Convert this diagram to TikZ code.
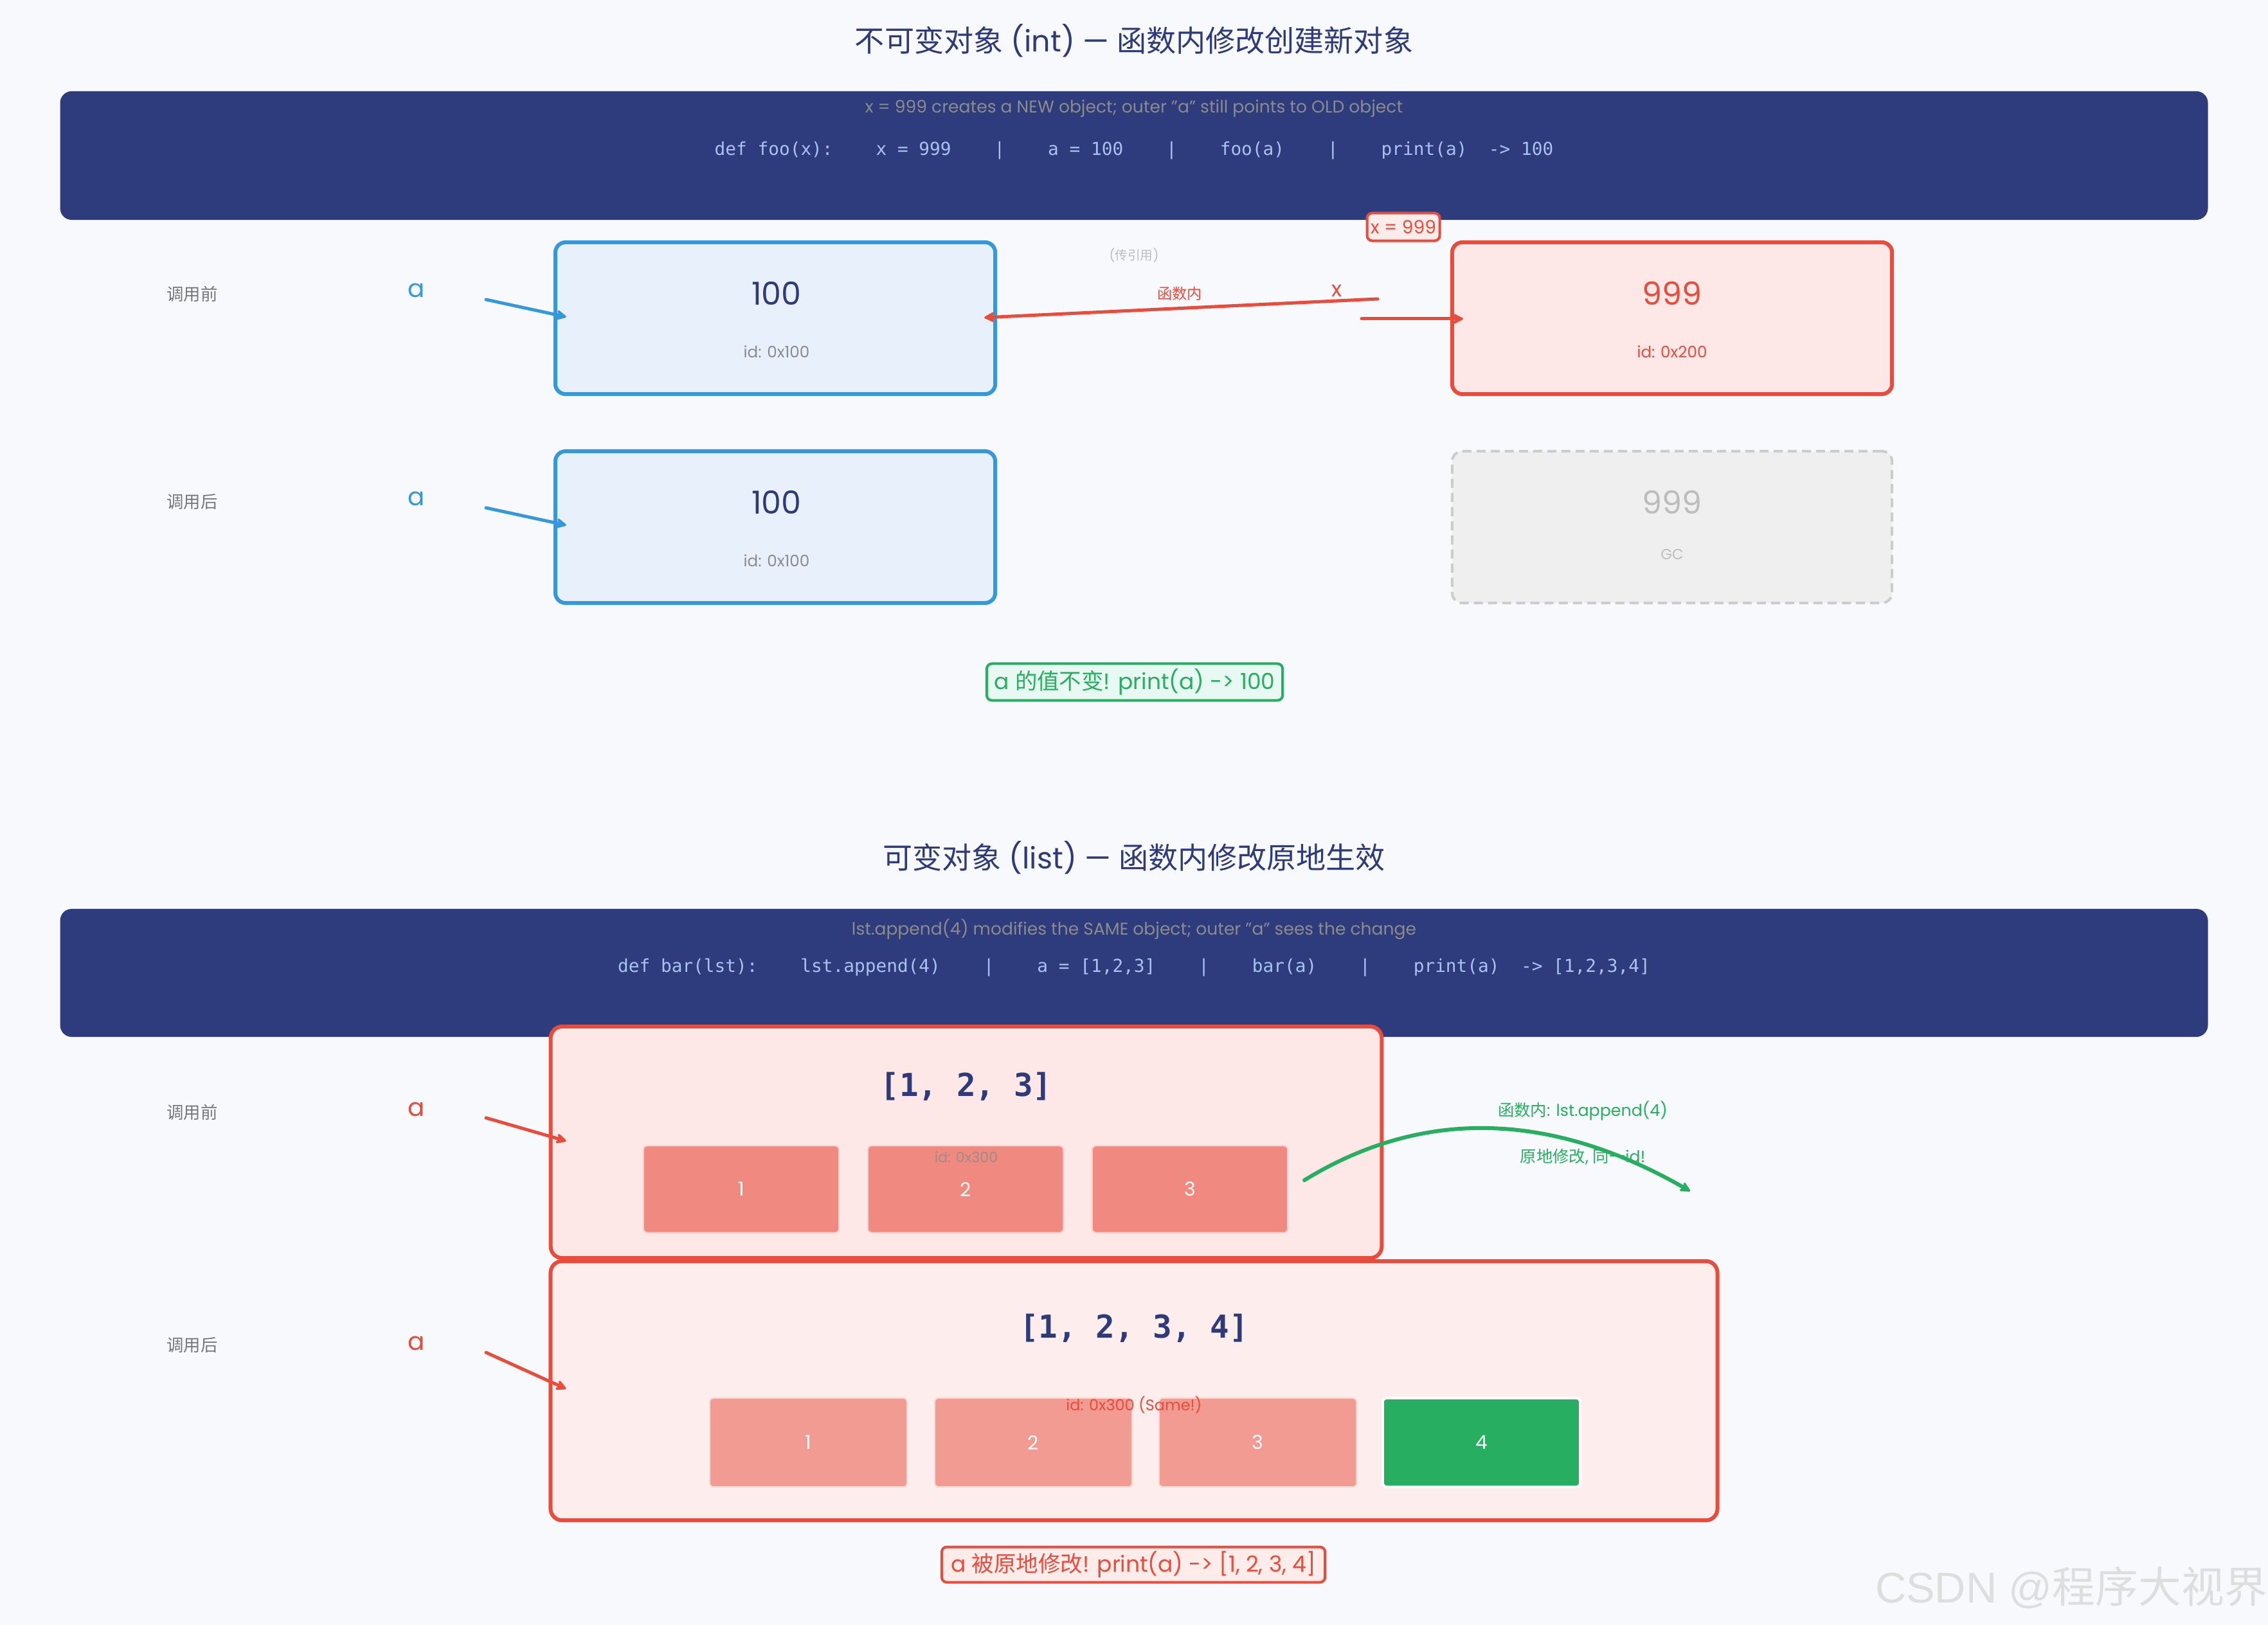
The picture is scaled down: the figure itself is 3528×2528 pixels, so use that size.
\documentclass[tikz,border=0pt]{standalone}
\usepackage{fontspec}
\setmainfont{Poppins}
\newfontfamily\cjk{Noto Sans CJK SC}
\newfontfamily\monof{DejaVu Sans Mono}
\newfontfamily\wmfont{Liberation Sans}
\usetikzlibrary{arrows.meta}
\definecolor{bgc}{HTML}{F7F9FC}
\definecolor{navy}{HTML}{2E3B7C}
\definecolor{navyt}{HTML}{2E3A7A}
\definecolor{codec}{HTML}{A9C2F2}
\definecolor{cmtc}{HTML}{8C8C8C}
\definecolor{blueC}{HTML}{3498DB}
\definecolor{blueF}{HTML}{E8F0FC}
\definecolor{redC}{HTML}{E74C3C}
\definecolor{redF}{HTML}{FDE8E7}
\definecolor{redF2}{HTML}{FEEDED}
\definecolor{tagF}{HTML}{FDECEA}
\definecolor{ghostF}{HTML}{EFEFEF}
\definecolor{ghostB}{HTML}{CCCCCC}
\definecolor{ghostT}{HTML}{BDBDBD}
\definecolor{greenC}{HTML}{27AE60}
\definecolor{greenF}{HTML}{E8F8F2}
\definecolor{cellA}{HTML}{F08A80}
\definecolor{cellB}{HTML}{F19B92}
\definecolor{labc}{HTML}{777777}
\definecolor{idc}{HTML}{8C8C8C}
\newcommand\fsz[1]{\fontsize{#1}{#1}\selectfont}
\tikzset{
  txt/.style={inner sep=0pt, anchor=center},
  banner/.style={fill=navy, rounded corners=0.18cm, minimum width=33.39cm, inner sep=0pt},
  valbox/.style={draw, rounded corners=0.16cm, line width=0.06cm, minimum width=6.84cm, minimum height=2.36cm, inner sep=0pt},
  bluebox/.style={valbox, draw=blueC, fill=blueF},
  redbox/.style={valbox, draw=redC, fill=redF},
  ghostbox/.style={valbox, draw=ghostB, fill=ghostF, line width=0.04cm, dash pattern=on 0.14cm off 0.08cm},
  listbox/.style={draw=redC, line width=0.06cm, rounded corners=0.18cm, inner sep=0pt},
  cellbox/.style={rounded corners=0.06cm, inner sep=0pt, text=white, font=\fsz{8.5pt}},
  arr/.style={line width=0.05cm, line cap=round, -{Stealth[length=0.2cm, width=0.2cm, round]}},
  note/.style={rounded corners=0.08cm, line width=0.04cm, inner sep=0pt},
  rowlab/.style={txt, text=labc, font=\cjk\fsz{7.5pt}},
  vname/.style={txt, font=\fsz{11pt}},
  cmt/.style={txt, text=cmtc, font=\fsz{7.55pt}},
  code/.style={txt, text=codec, font=\monof\fsz{7.9pt}},
  ttl/.style={txt, text=navyt, font=\fsz{13.1pt}},
}
\begin{document}
\begin{tikzpicture}[x=0.01cm, y=-0.01cm]
\useasboundingbox[fill=bgc] (0,0) rectangle (3528,2528);

% ---------------- Section 1 ----------------
\node[ttl] (t1) at (1764,63) {{\cjk 不可变对象} (int) — {\cjk 函数内修改创建新对象}};
\node[banner, minimum height=2.00cm] (ban1) at (1764,242) {};
\node[cmt] (c1) at (1764,169) {x = 999 creates a NEW object; outer "a" still points to OLD object};
\node[code] (k1) at (1764,234) {def foo(x):\ \ \ \ x = 999\ \ \ \ |\ \ \ \ a = 100\ \ \ \ |\ \ \ \ foo(a)\ \ \ \ |\ \ \ \ print(a)\ \ -> 100};

% row labels
\node[rowlab] (r1) at (299,457) {调用前};
\node[rowlab] (r2) at (299,781) {调用后};
\node[vname, text=blueC] (va1) at (648,452) {a};
\node[vname, text=blueC] (va2) at (648,776) {a};

% boxes
\node[bluebox] (vb1) at (1206,495) {};
\node[txt, text=navyt, font=\fsz{14pt}] (vb1v) at (1208,456) {100};
\node[txt, text=idc, font=\fsz{7pt}] (vb1i) at (1208,547) {id: 0x100};

\node[bluebox] (vb2) at (1206,820) {};
\node[txt, text=navyt, font=\fsz{14pt}] (vb2v) at (1208,781) {100};
\node[txt, text=idc, font=\fsz{7pt}] (vb2i) at (1208,872) {id: 0x100};

\node[redbox] (rb1) at (2601,495) {};
\node[txt, text=redC, font=\fsz{14pt}] (rb1v) at (2601,456) {999};
\node[txt, text=redC, font=\fsz{7pt}] (rb1i) at (2601,547) {id: 0x200};

\node[ghostbox] (gb) at (2601,820) {};
\node[txt, text=ghostT, font=\fsz{14pt}] (gbv) at (2601,781) {999};
\node[txt, text=ghostT, font=\fsz{6.5pt}] (gbi) at (2601,862) {GC};

% arrows a -> box
\coordinate (s1) at (756,466);
\coordinate (s2) at (756,790);
\draw[arr, blueC] (s1) -- ([shift={(20,-2)}]vb1.west);
\draw[arr, blueC] (s2) -- ([shift={(20,-3)}]vb2.west);

% function-internal pointer
\node[txt, text=ghostT, font=\fsz{5.6pt}] (pr) at (1764,397) {({\cjk 传引用})};
\node[txt, text=redC, font=\cjk\fsz{6.6pt}] (fn) at (1835,457) {函数内};
\node[txt, text=redC, font=\fsz{9.5pt}] (xl) at (2079,452) {x};
\coordinate (s3) at (2143,465);
\draw[arr, redC] (s3) -- ([shift={(-20,-1)}]vb1.east);
\coordinate (s4) at (2118,496);
\draw[arr, redC] (s4) -- ([shift={(20,1)}]rb1.west);
\node[note, draw=redC, fill=tagF, minimum width=1.13cm, minimum height=0.43cm, text=redC, font=\fsz{8pt}] (tag) at (2183,353) {x = 999};

% green note
\node[note, draw=greenC, fill=greenF, minimum width=4.60cm, minimum height=0.57cm, text=greenC, font=\fsz{9.8pt}] (gn) at (1765,1061) {a {\cjk 的值不变}! print(a) -> 100};

% ---------------- Section 2 ----------------
\node[ttl] (t2) at (1764,1334) {{\cjk 可变对象} (list) — {\cjk 函数内修改原地生效}};
\node[banner, minimum height=1.99cm] (ban2) at (1764,1513.5) {};
\node[cmt] (c2) at (1764,1446) {lst.append(4) modifies the SAME object; outer "a" sees the change};
\node[code] (k2) at (1764,1505) {def bar(lst):\ \ \ \ lst.append(4)\ \ \ \ |\ \ \ \ a = [1,2,3]\ \ \ \ |\ \ \ \ bar(a)\ \ \ \ |\ \ \ \ print(a)\ \ -> [1,2,3,4]};

\node[rowlab] (r3) at (299,1730) {调用前};
\node[rowlab] (r4) at (299,2093) {调用后};
\node[vname, text=redC] (va3) at (648,1726) {a};
\node[vname, text=redC] (va4) at (648,2090) {a};

% list box before
\node[listbox, fill=redF, minimum width=12.92cm, minimum height=3.60cm] (lb1) at (1503,1777) {};
\node[txt, text=navyt, font=\monof\bfseries\fsz{14pt}] (lb1t) at (1503,1690) {[1, 2, 3]};
\node[cellbox, fill=cellA, draw=white!60!cellA, line width=0.02cm, minimum width=3.04cm, minimum height=1.35cm] (c11) at (1153,1850) {1};
\node[cellbox, fill=cellA, draw=white!60!cellA, line width=0.02cm, minimum width=3.04cm, minimum height=1.35cm] (c12) at (1502,1850) {2};
\node[cellbox, fill=cellA, draw=white!60!cellA, line width=0.02cm, minimum width=3.04cm, minimum height=1.35cm] (c13) at (1851,1850) {3};
\node[txt, text=cmtc!80!cellA, font=\fsz{6.3pt}] (lb1i) at (1503,1800) {id: 0x300};

% list box after
\node[listbox, fill=redF2, minimum width=18.14cm, minimum height=4.03cm] (lb2) at (1764,2163.5) {};
\node[txt, text=navyt, font=\monof\bfseries\fsz{14pt}] (lb2t) at (1764,2066) {[1, 2, 3, 4]};
\node[cellbox, fill=cellB, draw=white!60!cellB, line width=0.02cm, minimum width=3.07cm, minimum height=1.38cm] (c21) at (1257.5,2244) {1};
\node[cellbox, fill=cellB, draw=white!60!cellB, line width=0.02cm, minimum width=3.07cm, minimum height=1.38cm] (c22) at (1607.5,2244) {2};
\node[cellbox, fill=cellB, draw=white!60!cellB, line width=0.02cm, minimum width=3.07cm, minimum height=1.38cm] (c23) at (1956.5,2244) {3};
\node[cellbox, fill=greenC, draw=white, line width=0.04cm, minimum width=3.07cm, minimum height=1.38cm] (c24) at (2304.5,2244) {4};
\node[txt, text=redC, font=\fsz{6.8pt}] (lb2i) at (1764,2186) {id: 0x300 (Same!)};

% arrows a -> list boxes
\coordinate (s5) at (756,1739);
\coordinate (s6) at (756,2104);
\draw[arr, redC] (s5) -- ([shift={(27,-2)}]lb1.west);
\draw[arr, redC] (s6) -- ([shift={(27,-3)}]lb2.west);

% green curved arrow
\node[txt, text=greenC, font=\fsz{7.2pt}] (ga) at (2462,1728) {{\cjk 函数内}: lst.append(4)};
\node[txt, text=greenC, font=\fsz{7.2pt}] (gb2) at (2462,1800) {{\cjk 原地修改}, {\cjk 同一}id!};
\coordinate (g0) at (2029,1836);
\coordinate (g1) at (2629,1853);
\draw[arr, greenC, line width=0.06cm] (g0) .. controls (2213,1723) and (2413,1729) .. (g1);

% bottom note
\node[note, draw=redC, fill=tagF, minimum width=5.96cm, minimum height=0.55cm, text=redC, font=\fsz{9.8pt}] (rn) at (1763,2434) {a {\cjk 被原地修改}! print(a) -> [1, 2, 3, 4]};

% watermark
\node[txt, text=black!13, font=\wmfont\fsz{19pt}] (wm) at (3222,2470) {CSDN @{\cjk 程序大视界}};
\end{tikzpicture}
\end{document}
